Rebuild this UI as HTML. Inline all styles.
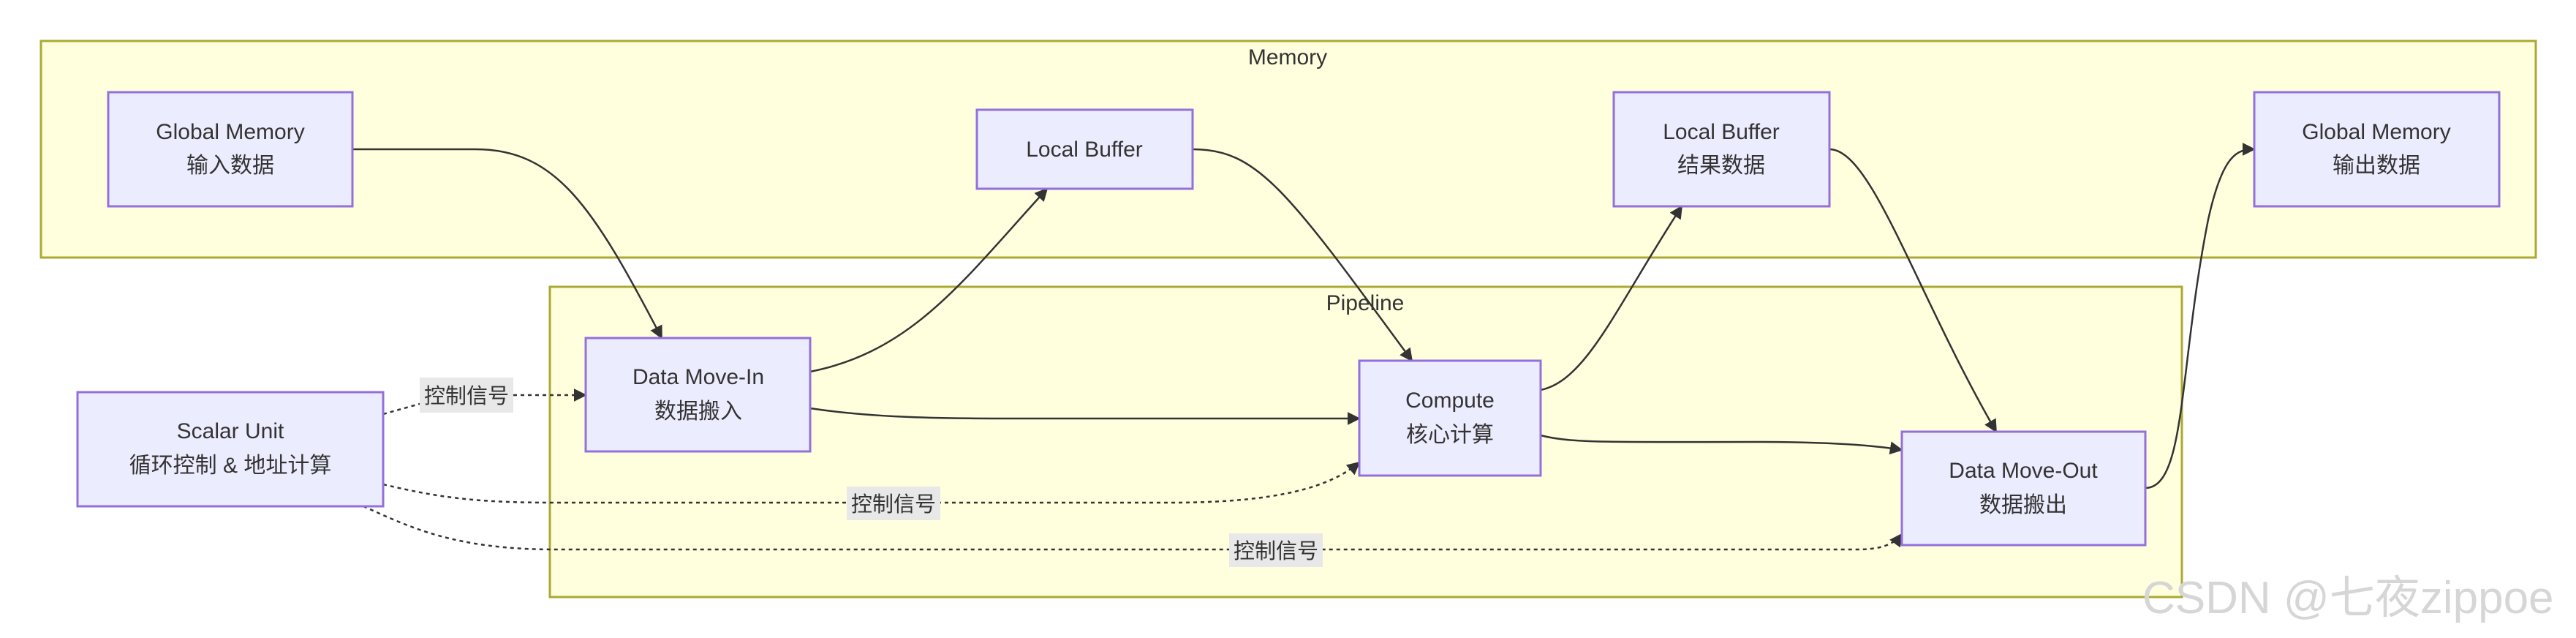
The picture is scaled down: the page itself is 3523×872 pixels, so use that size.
<!DOCTYPE html>
<html><head><meta charset="utf-8"><style>
html,body{margin:0;padding:0;background:#fff;}
svg{display:block;}
text{font-family:"Liberation Sans","Noto Sans CJK SC",sans-serif;fill:#333;}
.n{fill:#ececff;stroke:#9370db;stroke-width:3;}
.c{fill:#ffffde;stroke:#aaaa33;stroke-width:3;}
.e{fill:none;stroke:#333;stroke-width:2.5;}
.d{fill:none;stroke:#333;stroke-width:2.5;stroke-dasharray:5 5;}
.t{font-size:30px;text-anchor:middle;}
.lb{fill:#e8e8e8;}
</style></head><body>
<svg width="3523" height="872" viewBox="0 0 3523 872" xmlns="http://www.w3.org/2000/svg">
<defs><marker id="a" viewBox="0 0 10 10" refX="9" refY="5" markerWidth="8" markerHeight="8" markerUnits="userSpaceOnUse" orient="auto"><path d="M0,0L10,5L0,10z" fill="#333"/></marker>
<marker id="b" viewBox="0 0 10 10" refX="9" refY="5" markerWidth="18" markerHeight="18" markerUnits="userSpaceOnUse" orient="auto"><path d="M0,0L10,5L0,10z" fill="#333"/></marker></defs>
<rect class="c" x="56" y="56" width="3412" height="296"/>
<text class="t" x="1761" y="88">Memory</text>
<rect class="c" x="752" y="392" width="2232" height="424"/>
<text class="t" x="1867" y="424">Pipeline</text>

<!-- edges -->
<path class="e" marker-end="url(#b)" d="M482,204 L650,204 C760,204 810,280 905,462"/>
<path class="e" marker-end="url(#b)" d="M1108,508 C1250,480 1320,380 1432,258"/>
<path class="e" marker-end="url(#b)" d="M1108,558 C1200,572 1300,572 1400,572 L1859,572"/>
<path class="e" marker-end="url(#b)" d="M1631,204 C1720,204 1760,260 1931,493"/>
<path class="e" marker-end="url(#b)" d="M2107,533 C2170,520 2210,420 2300,282"/>
<path class="e" marker-end="url(#b)" d="M2107,595 C2150,606 2200,604 2400,604 C2500,604 2560,608 2601,615"/>
<path class="e" marker-end="url(#b)" d="M2502,204 C2560,204 2620,400 2730,590"/>
<path class="e" marker-end="url(#b)" d="M2934,667 C2990,667 2980,500 3020,300 C3040,210 3060,204 3083,204"/>

<path class="d" marker-end="url(#b)" d="M524,566 L574,552 M702,540 L801,540"/>
<path class="d" marker-end="url(#b)" d="M524,662 C600,680 650,687 760,687 L1600,687 C1750,687 1820,665 1859,632"/>
<path class="d" marker-end="url(#b)" d="M497,692 C560,720 620,751 760,751 L2540,751 C2570,751 2590,745 2601,730"/>

<!-- edge labels -->
<rect class="lb" x="574" y="516" width="128" height="48"/>
<text class="t" x="638" y="551" style="font-size:29px">控制信号</text>
<rect class="lb" x="1158" y="665" width="128" height="46"/>
<text class="t" x="1222" y="699" style="font-size:29px">控制信号</text>
<rect class="lb" x="1681" y="729" width="128" height="46"/>
<text class="t" x="1745" y="763" style="font-size:29px">控制信号</text>

<!-- nodes -->
<rect class="n" x="148" y="126" width="334" height="156"/>
<text class="t" x="315" y="190">Global Memory</text><text class="t" x="315" y="236">输入数据</text>
<rect class="n" x="1336" y="150" width="295" height="108"/>
<text class="t" x="1483" y="214">Local Buffer</text>
<rect class="n" x="2207" y="126" width="295" height="156"/>
<text class="t" x="2354" y="190">Local Buffer</text><text class="t" x="2354" y="236">结果数据</text>
<rect class="n" x="3083" y="126" width="335" height="156"/>
<text class="t" x="3250" y="190">Global Memory</text><text class="t" x="3250" y="236">输出数据</text>
<rect class="n" x="801" y="462" width="307" height="155"/>
<text class="t" x="955" y="525">Data Move-In</text><text class="t" x="955" y="572">数据搬入</text>
<rect class="n" x="106" y="536" width="418" height="156"/>
<text class="t" x="315" y="599">Scalar Unit</text><text class="t" x="315" y="646">循环控制 &amp; 地址计算</text>
<rect class="n" x="1859" y="493" width="248" height="157"/>
<text class="t" x="1983" y="557">Compute</text><text class="t" x="1983" y="604">核心计算</text>
<rect class="n" x="2601" y="590" width="333" height="155"/>
<text class="t" x="2767" y="653">Data Move-Out</text><text class="t" x="2767" y="700">数据搬出</text>

<text x="2930" y="838" style="font-size:62px;fill:#d6d6d6;">CSDN @七夜zippoe</text>
</svg>
</body></html>
